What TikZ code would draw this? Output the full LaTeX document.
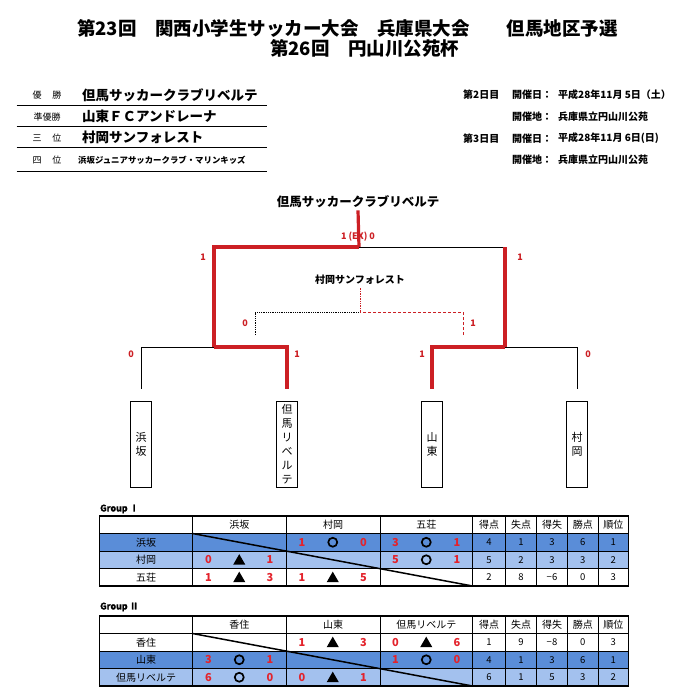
\documentclass[tikz,border=0pt]{standalone}
\usepackage{fontspec}
\setmainfont{Noto Sans CJK JP}
\newfontfamily\heavyfont[FakeBold=2.5]{Noto Sans CJK JP Bold}
\newfontfamily\markfont[FakeBold=12]{Noto Sans CJK JP Bold}
\definecolor{bred}{HTML}{CC1F24}
\definecolor{sred}{HTML}{E3232C}
\definecolor{rowdark}{HTML}{5A8DD8}
\definecolor{rowlight}{HTML}{A3C1EE}
\usetikzlibrary{calc, positioning}

\begin{document}
\begin{tikzpicture}[x=1pt, y=-1pt,
  win/.style={line width=3.2pt, bred},
  lose/.style={line width=0.8pt, black},
  team/.style={draw, line width=0.9pt, minimum width=21pt, minimum height=86pt,
               inner sep=0pt, align=center, font=\fontsize{11}{14}\selectfont},
  score/.style={font=\fontsize{9}{9}\selectfont\bfseries, text=bred, inner sep=0pt},
  lbl/.style={font=\fontsize{9}{9}\selectfont, inner sep=0pt},
  info/.style={font=\fontsize{10}{10}\selectfont\bfseries, anchor=west, inner sep=0pt},
  cell/.style={font=\fontsize{10}{10}\selectfont, inner sep=0pt},
  stat/.style={font=\fontsize{9.5}{9.5}\selectfont, inner sep=0pt},
  goal/.style={font=\fontsize{11}{11}\selectfont\bfseries, text=sred, inner sep=0pt},
  mark2/.style={font=\fontsize{10.5}{10.5}\markfont, inner sep=0pt},
  grp/.style={font=\fontsize{9}{9}\heavyfont, anchor=west, inner sep=0pt},
  tabline/.style={line width=0.6pt},
]
\useasboundingbox (0,0) rectangle (684,699);

% Title
\node[font=\fontsize{18.5}{18.5}\selectfont\bfseries, anchor=west, inner sep=0pt] (title1) at (77,28)
  {第23回　関西小学生サッカー大会　兵庫県大会　　但馬地区予選};
\node[font=\fontsize{18.5}{18.5}\selectfont\bfseries, anchor=west, inner sep=0pt] (title2) at (270,48)
  {第26回　円山川公苑杯};

% Final ranking
\node[lbl] (rank1) at (47,95) {優\hspace{11pt}勝};
\node[lbl] (rank2) at (47,116.7) {準優勝};
\node[lbl] (rank3) at (47,137.7) {三\hspace{11pt}位};
\node[lbl] (rank4) at (47,160) {四\hspace{11pt}位};
\node[font=\fontsize{13.5}{13.5}\selectfont\bfseries, anchor=west, inner sep=0pt] (club1) at (82,95) {但馬サッカークラブリベルテ};
\node[font=\fontsize{13.5}{13.5}\selectfont\bfseries, anchor=west, inner sep=0pt] (club2) at (82,116.7) {山東ＦＣアンドレーナ};
\node[font=\fontsize{13.5}{13.5}\selectfont\bfseries, anchor=west, inner sep=0pt] (club3) at (82,137.7) {村岡サンフォレスト};
\node[font=\fontsize{8.4}{8.4}\selectfont\bfseries, anchor=west, inner sep=0pt] (club4) at (78,160) {浜坂ジュニアサッカークラブ・マリンキッズ};
\foreach \y in {105.7,126.7,147.7,171} \draw[line width=0.8pt] (16.7,\y) -- (266.7,\y);

% Schedule
\node[info] (day2) at (463,95) {第2日目};
\node[info] (date2) at (512,95) {開催日：};
\node[info] (when2) at (558,95) {平成28年11月 5日（土）};
\node[info] (site2) at (512,116.7) {開催地：};
\node[info] (where2) at (558,116.7) {兵庫県立円山川公苑};
\node[info] (day3) at (463,138.3) {第3日目};
\node[info] (date3) at (512,138.3) {開催日：};
\node[info] (when3) at (558,138.3) {平成28年11月 6日(日)};
\node[info] (site3) at (512,160) {開催地：};
\node[info] (where3) at (558,160) {兵庫県立円山川公苑};

% Bracket
\node[font=\fontsize{12.5}{12.5}\selectfont\bfseries, inner sep=2pt] (champ) at (358,202) {但馬サッカークラブリベルテ};
\node[font=\fontsize{10}{10}\selectfont\bfseries, inner sep=2pt] (third) at (360,280) {村岡サンフォレスト};
\node[team] (hamasaka) at (141,444) {浜\\坂};
\node[team] (liberte) at (287,444) {但\\馬\\リ\\ベ\\ル\\テ};
\node[team] (santo) at (432,444) {山\\東};
\node[team] (muraoka) at (577,444) {村\\岡};

\coordinate (semiL) at (214,347);
\coordinate (semiR) at (505,347);
\coordinate (final) at (359,247);
\coordinate (thirdL) at (255,335);
\coordinate (thirdR) at (463,335);
\coordinate (thirdM) at (360,312);

\draw[lose, shorten <=12pt] (hamasaka.north) |- (semiL);
\draw[lose, shorten <=12pt] (muraoka.north) |- (semiR);
\draw[lose] (final) -- (semiR |- final);
\draw[win, shorten <=12pt] (liberte.north) |- (semiL);
\draw[win, shorten <=12pt] (santo.north) |- (semiR);
\draw[win] (semiL) |- (final);
\draw[win] (semiR) -- (semiR |- final);
\draw[win] (final) -- (champ.south);

% 3rd place match
\draw[lose, densely dotted, line width=0.7pt] (thirdL) |- (thirdM);
\draw[bred, densely dashed, line width=0.7pt] (thirdR) |- (thirdM);
\draw[bred, densely dotted, line width=0.7pt] (thirdM) -- (third.south);

% Scores
\node[score] (scFinal) at (358,237) {1 (EX) 0};
\node[score] (scSemiL) at (203,257) {1};
\node[score] (scSemiR) at (520,257) {1};
\node[score] (scThirdL) at (245,323) {0};
\node[score] (scThirdR) at (473,323) {1};
\node[score] (scHamasaka) at (131,354) {0};
\node[score] (scLiberte) at (297,354) {1};
\node[score] (scSanto) at (422,354) {1};
\node[score] (scMuraoka) at (588,354) {0};

% Group I
\node[grp] (grp1) at (100,509) {Group Ⅰ};
\fill[rowdark] (99.5,533.5) rectangle (628.5,551);
\fill[rowlight] (99.5,551) rectangle (628.5,568.5);
\foreach \y in {533.5,551,568.5} \draw[tabline] (99.5,\y) -- (628.5,\y);
\foreach \x in {192.5,286,380,472.5,505.5,536.5,567.5,598} \draw[tabline] (\x,516) -- (\x,586);
\draw[line width=1.2pt] (99.5,516) rectangle (628.5,586);
\draw[line width=1.5pt] (192.5,533.5) -- (472.5,586);
\foreach \n/\x/\t in {1/239.25/浜坂, 2/333/村岡, 3/426.25/五荘, 4/489/得点, 5/521/失点, 6/552/得失, 7/582.75/勝点, 8/613.25/順位}
  \node[cell] (g1h\n) at (\x,524.75) {\t};
\foreach \r/\t in {1/浜坂, 2/村岡, 3/五荘}
  \node[cell] (g1n\r) at (146,{524.75+17.5*\r}) {\t};
\foreach \r/\c/\sa/\sm/\sb in {1/2/1/○/0, 1/3/3/○/1, 2/1/0/▲/1, 2/3/5/○/1, 3/1/1/▲/3, 3/2/1/▲/5} {
  \node[goal] (g1a\r\c) at ({192.5+93.5*(\c-1)+16},{524.75+17.5*\r}) {\sa};
  \node[mark2] (g1m\r\c) at ({239.25+93.5*(\c-1)},{524.75+17.5*\r}) {\sm};
  \node[goal] (g1b\r\c) at ({286+93.5*(\c-1)-16},{524.75+17.5*\r}) {\sb};
}
\foreach \r/\gf/\ga/\gd/\pts/\rk in {1/4/1/3/6/1, 2/5/2/3/3/2, 3/2/8/−6/0/3} {
  \node[stat] (g1f\r) at (489,{524.75+17.5*\r}) {\gf};
  \node[stat] (g1g\r) at (521,{524.75+17.5*\r}) {\ga};
  \node[stat] (g1d\r) at (552,{524.75+17.5*\r}) {\gd};
  \node[stat] (g1p\r) at (582.75,{524.75+17.5*\r}) {\pts};
  \node[stat] (g1r\r) at (613.25,{524.75+17.5*\r}) {\rk};
}

% Group II
\node[grp] (grp2) at (100,607) {Group Ⅱ};
\fill[rowdark] (99.5,651) rectangle (628.5,668.5);
\fill[rowlight] (99.5,668.5) rectangle (628.5,686);
\foreach \y in {633.5,651,668.5} \draw[tabline] (99.5,\y) -- (628.5,\y);
\foreach \x in {192.5,286,380,472.5,505.5,536.5,567.5,598} \draw[tabline] (\x,616) -- (\x,686);
\draw[line width=1.2pt] (99.5,616) rectangle (628.5,686);
\draw[line width=1.5pt] (192.5,633.5) -- (472.5,686);
\foreach \n/\x/\t in {1/239.25/香住, 2/333/山東, 3/426.25/但馬リベルテ, 4/489/得点, 5/521/失点, 6/552/得失, 7/582.75/勝点, 8/613.25/順位}
  \node[cell] (g2h\n) at (\x,624.75) {\t};
\foreach \r/\t in {1/香住, 2/山東, 3/但馬リベルテ}
  \node[cell] (g2n\r) at (146,{624.75+17.5*\r}) {\t};
\foreach \r/\c/\sa/\sm/\sb in {1/2/1/▲/3, 1/3/0/▲/6, 2/1/3/○/1, 2/3/1/○/0, 3/1/6/○/0, 3/2/0/▲/1} {
  \node[goal] (g2a\r\c) at ({192.5+93.5*(\c-1)+16},{624.75+17.5*\r}) {\sa};
  \node[mark2] (g2m\r\c) at ({239.25+93.5*(\c-1)},{624.75+17.5*\r}) {\sm};
  \node[goal] (g2b\r\c) at ({286+93.5*(\c-1)-16},{624.75+17.5*\r}) {\sb};
}
\foreach \r/\gf/\ga/\gd/\pts/\rk in {1/1/9/−8/0/3, 2/4/1/3/6/1, 3/6/1/5/3/2} {
  \node[stat] (g2f\r) at (489,{624.75+17.5*\r}) {\gf};
  \node[stat] (g2g\r) at (521,{624.75+17.5*\r}) {\ga};
  \node[stat] (g2d\r) at (552,{624.75+17.5*\r}) {\gd};
  \node[stat] (g2p\r) at (582.75,{624.75+17.5*\r}) {\pts};
  \node[stat] (g2r\r) at (613.25,{624.75+17.5*\r}) {\rk};
}

\end{tikzpicture}
\end{document}
